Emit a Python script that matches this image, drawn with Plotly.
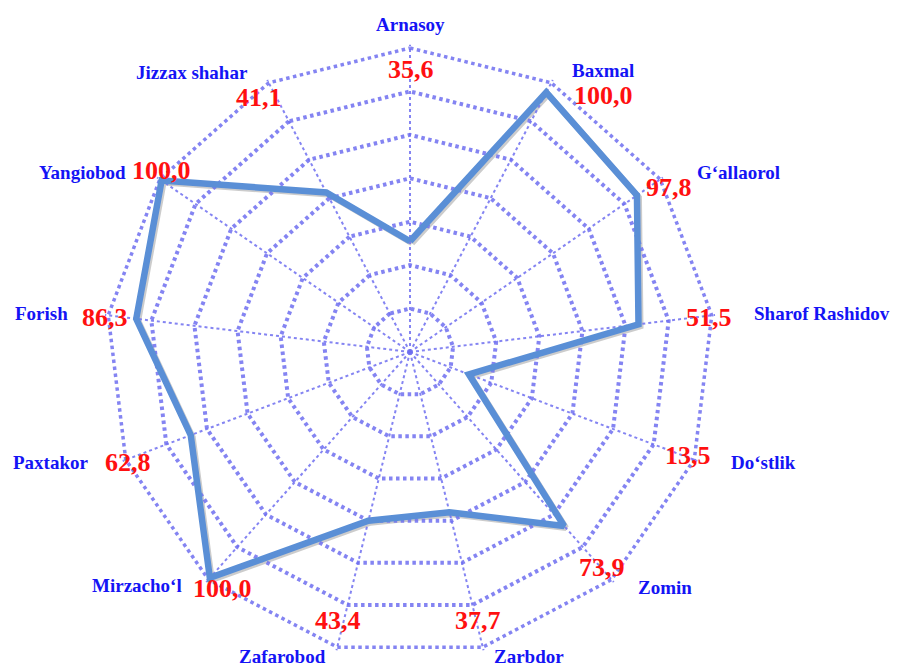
import plotly.graph_objects as go

W, H = 899, 667

# categories clockwise from the top
districts = [
    "Arnasoy", "Baxmal", "G‘allaorol", "Sharof Rashidov", "Do‘stlik", "Zomin",
    "Zarbdor", "Zafarobod", "Mirzacho‘l", "Paxtakor", "Forish", "Yangiobod",
    "Jizzax shahar",
]
plotted = [51, 135, 127, 106, 29, 107, 76, 80, 139, 108, 127, 139, 83]
# printed value labels
label_values = [35.6, 100.0, 97.8, 51.5, 13.5, 73.9, 37.7, 43.4, 100.0, 62.8, 86.3, 100.0, 41.1]
ring_max = 140

# label placement in pixels (centre of text)
name_pos = [(410, 24), (603, 71), (738, 172), (822, 313), (763, 462), (665, 587),
            (529, 656), (282, 656), (137, 585), (51, 462), (41, 313), (82, 172),
            (192, 72)]
value_pos = [(411, 70), (603, 95), (669, 187), (709, 318), (688, 455), (602, 567),
             (478, 620), (338, 620), (222, 588), (128, 462), (105, 318), (161, 170),
             (259, 98)]

GRID = "rgba(110,110,240,0.85)"
LINE = "#5A8FD6"

cx, cy = 410, 352
R_MAX = 141.5                    # a little room so the outer ring isn't clipped
R = 304 * R_MAX / ring_max       # pixel radius of the polar domain

fig = go.Figure()

# shadow (drawn first, in the lower subplot)
fig.add_trace(go.Scatterpolar(
    r=plotted + plotted[:1],
    theta=districts + districts[:1],
    mode="lines",
    line=dict(color="rgba(0,0,0,0.2)", width=6),
    hoverinfo="skip",
    showlegend=False,
    subplot="polar",
))

# outer ring
fig.add_trace(go.Scatterpolar(
    r=[ring_max] * (len(districts) + 1),
    theta=districts + districts[:1],
    mode="lines",
    line=dict(color=GRID, width=3.5, dash="dot"),
    hoverinfo="skip",
    showlegend=False,
    subplot="polar2",
))

fig.add_trace(go.Scatterpolar(
    r=plotted + plotted[:1],
    theta=districts + districts[:1],
    mode="lines",
    line=dict(color=LINE, width=6.5),
    showlegend=False,
    subplot="polar2",
))

# small circle at the centre
fig.add_trace(go.Scatterpolar(
    r=[0], theta=[districts[0]],
    mode="markers",
    marker=dict(size=9, color="rgba(0,0,0,0)", line=dict(color=GRID, width=2)),
    cliponaxis=False,
    hoverinfo="skip",
    showlegend=False,
    subplot="polar2",
))

off = 2
dom_x = [(cx - R + off) / W, (cx + R + off) / W]
dom_y = [(H - cy - R - off) / H, (H - cy + R - off) / H]
dom_x2 = [(cx - R) / W, (cx + R) / W]
dom_y2 = [(H - cy - R) / H, (H - cy + R) / H]

annotations = []
for name, (x, y) in zip(districts, name_pos):
    annotations.append(dict(
        x=x / W, y=1 - y / H, xref="paper", yref="paper",
        text=name, showarrow=False, xanchor="center", yanchor="middle",
        font=dict(family="Liberation Serif", size=19, color="#1414F5", weight="bold"),
    ))
for v, (x, y) in zip(label_values, value_pos):
    annotations.append(dict(
        x=x / W, y=1 - y / H, xref="paper", yref="paper",
        text=f"{v:.1f}".replace(".", ","), showarrow=False,
        xanchor="center", yanchor="middle",
        font=dict(family="Liberation Serif", size=26, color="#FF1010", weight="bold"),
    ))

fig.update_layout(
    width=W, height=H,
    paper_bgcolor="white",
    plot_bgcolor="white",
    margin=dict(l=0, r=0, t=0, b=0),
    polar=dict(
        domain=dict(x=dom_x, y=dom_y),
        bgcolor="rgba(0,0,0,0)",
        gridshape="linear",
        radialaxis=dict(range=[0, R_MAX], visible=False),
        angularaxis=dict(direction="clockwise", rotation=90, visible=False),
    ),
    polar2=dict(
        domain=dict(x=dom_x2, y=dom_y2),
        bgcolor="rgba(0,0,0,0)",
        gridshape="linear",
        radialaxis=dict(range=[0, R_MAX], tickvals=[20, 40, 60, 80, 100, 120],
                        showticklabels=False, ticks="", showline=False,
                        gridcolor=GRID, gridwidth=3.5, griddash="dot"),
        angularaxis=dict(direction="clockwise", rotation=90, showticklabels=False,
                         ticks="", showline=False, gridcolor=GRID, gridwidth=2,
                         griddash="dot"),
    ),
    annotations=annotations,
    showlegend=False,
)

fig.write_html("out.html", config={"displayModeBar": False},
               post_script="document.body.style.margin='0';")
